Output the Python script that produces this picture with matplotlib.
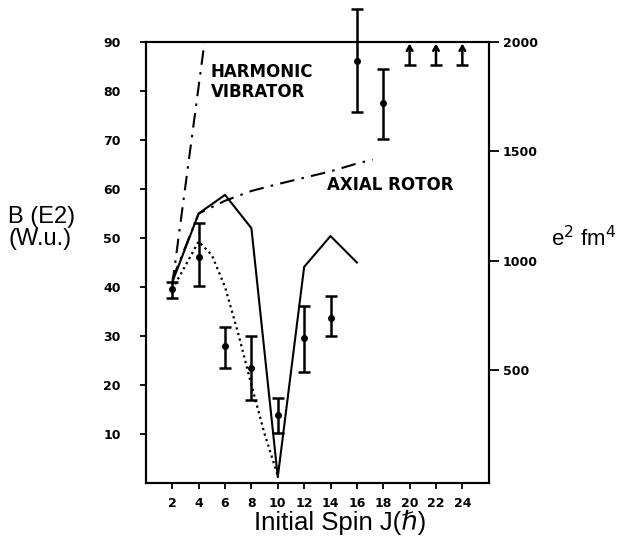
import numpy as np
import matplotlib
matplotlib.use("Agg")
from matplotlib import pyplot as plt

# measured B(E2; J -> J-2) values (W.u.)
J_exp = [2, 4, 6, 8, 10, 12, 14, 16, 18]
B_exp = [39.6, 46.2, 28.0, 23.4, 13.9, 29.5, 33.6, 86.2, 77.6]
err_lo = [1.8, 6.1, 4.6, 6.5, 3.8, 6.8, 3.6, 10.5, 7.4]
err_hi = [1.4, 6.9, 3.9, 6.6, 3.5, 6.6, 4.6, 10.5, 6.8]

# lower limits
J_lim = [20, 22, 24]
B_lim = [85.4, 85.4, 85.4]

# model curves
J_calc = [2, 4, 6, 8, 10, 12, 14, 16]
B_calc = [41.0, 55.0, 58.8, 52.0, 1.2, 44.1, 50.4, 45.0]

J_dot = [2, 4, 5, 6, 7, 8, 9, 10]
B_dot = [39.5, 49.3, 46.5, 40.0, 30.5, 20.0, 10.0, 1.5]

J_rot = [2, 4, 6, 8, 10, 12, 14, 16, 17.2]
B_rot = [41.5, 55.0, 57.6, 59.6, 61.0, 62.3, 63.6, 65.2, 66.0]

J_vib = [2, 4, 6]
B_vib = [40.5, 81.0, 121.5]

x_ticks = list(range(2, 26, 2))
y_ticks = [10, 20, 30, 40, 50, 60, 70, 80, 90]
r_ticks = [500, 1000, 1500, 2000]
r_labels = ["500", "1000", "1500", "2000"]

fig = plt.figure(figsize=(6.21, 5.39), dpi=100)
ax = fig.add_axes([0.235, 0.104, 0.552, 0.818])

lw = 1.5
ax.plot(J_calc, B_calc, color="black", lw=lw)
ax.plot(J_dot, B_dot, color="black", lw=1.6, dashes=(1.0, 1.6))
ax.plot(J_rot, B_rot, color="black", lw=lw, dashes=(7, 3.5, 1.2, 3.5))
ax.plot(J_vib, B_vib, color="black", lw=lw, dashes=(7, 3.5, 1.2, 3.5))

ax.errorbar(J_exp, B_exp, yerr=[err_lo, err_hi], fmt="o", color="black",
            ms=4, elinewidth=1.8, capsize=4, capthick=1.8, clip_on=False)

for j, b in zip(J_lim, B_lim):
    ax.annotate("", xy=(j, 89.7), xytext=(j, b),
                arrowprops=dict(arrowstyle="->,head_length=0.35,head_width=0.2",
                                color="black", lw=1.8, shrinkA=0, shrinkB=0))
    ax.plot([j], [b], marker="_", ms=8, mew=1.8, color="black")

ax.set_xlim(0, 26)
ax.set_ylim(0, 90)
ax.set_xticks(x_ticks)
ax.set_yticks(y_ticks)
ax.tick_params(axis="x", direction="out", length=4, width=1.3, pad=6,
               labelsize=9)
ax.tick_params(axis="y", direction="out", length=4, width=1.3, pad=14,
               labelsize=9)
for lab in ax.get_xticklabels() + ax.get_yticklabels():
    lab.set_fontweight("bold")
for s in ax.spines.values():
    s.set_linewidth(1.5)

ax2 = ax.twinx()
ax2.set_ylim(-15, 2000)
ax2.set_yticks(r_ticks)
ax2.set_yticklabels(r_labels)
ax2.tick_params(axis="y", direction="out", length=7, width=1.3, pad=3,
                labelsize=9)
for lab in ax2.get_yticklabels():
    lab.set_fontweight("bold")
for s in ax2.spines.values():
    s.set_linewidth(1.5)

ax.text(4.9, 81.8, "HARMONIC\nVIBRATOR", fontsize=12, fontweight="bold",
        ha="left", va="center", linespacing=1.15)
ax.text(13.7, 60.8, "AXIAL ROTOR", fontsize=12, fontweight="bold",
        ha="left", va="center")

fam = ["Liberation Sans", "DejaVu Sans"]
fig.text(0.013, 0.577, "B (E2)\n(W.u.)", fontsize=17, ha="left", va="center",
         linespacing=1.0, family=fam)
fig.text(0.887, 0.558, "e$^2$ fm$^4$", fontsize=16, ha="left", va="center",
         family=fam)
fig.text(0.548, 0.03, "Initial Spin J(ℏ)", fontsize=18.5, ha="center",
         va="center", family=fam)

fig.savefig("out.png", dpi=100, facecolor="white")
